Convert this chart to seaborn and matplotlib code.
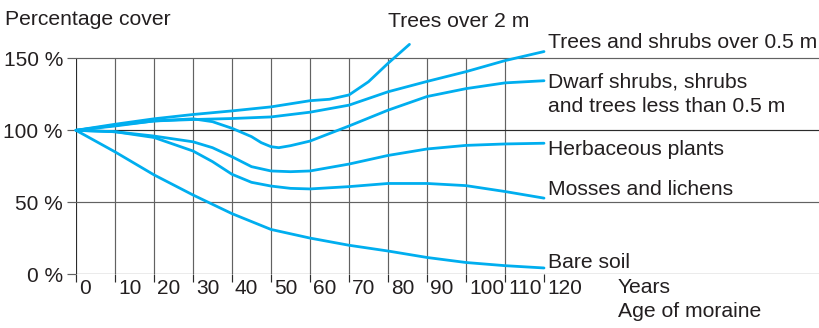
import matplotlib
matplotlib.use("Agg")
import matplotlib.pyplot as plt
import seaborn as sns
from matplotlib.transforms import ScaledTranslation

# Werte (Alter der Moräne in Jahren -> Bedeckung in %)
yrs_trees2m = [0, 10, 20, 30, 40, 50, 60, 65, 70, 75, 80, 85.5]
trees2m = [100, 104.2, 108, 111, 113.5, 116.3, 120.6, 121.6, 124.6, 133.8, 146.6, 159.8]

yrs_full = [0, 10, 20, 30, 40, 50, 60, 70, 80, 90, 100, 110, 120]
trees_shrubs = [100, 103.5, 106.5, 107.5, 108.2, 109.3, 112.6, 117.5, 126.8, 134, 140.8, 148.5, 154.8]
bare_soil = [100, 85, 69, 55, 42, 31, 25, 20, 16, 11.5, 8, 5.8, 4.2]

yrs_dwarf = [0, 10, 20, 30, 35, 40, 45, 47.5, 50, 52, 55, 60, 70, 80, 90, 100, 110, 120]
dwarf = [100, 103, 106.5, 108, 106, 101.4, 95.6, 91.4, 88.6, 87.9, 89.3, 92.5, 103, 114, 123.5, 129, 133, 134.5]

yrs_mid = [0, 10, 20, 30, 35, 40, 45, 50, 55, 60, 70, 80, 90, 100, 110, 120]
herbaceous = [100, 99, 96, 92, 87.9, 81.6, 74.7, 71.7, 71.2, 71.7, 76.5, 82.5, 87, 89.5, 90.5, 91]
mosses = [100, 99, 95, 85.6, 78.2, 69.4, 63.8, 61.2, 59.6, 59.2, 60.8, 63, 63, 61.5, 57.4, 52.8]

x_ticks = [0, 10, 20, 30, 40, 50, 60, 70, 80, 90, 100, 110, 120]
y_ticks = [0, 50, 100, 150]
y_labels = ["0 %", "50 %", "100 %", "150 %"]

labels = ["Trees over 2 m", "Trees and shrubs over 0.5 m", "Dwarf shrubs, shrubs",
          "and trees less than 0.5 m", "Herbaceous plants", "Mosses and lichens", "Bare soil"]

CYAN = "#00aeef"
DARK = "#2b2b2b"
GREY = "#626262"
TXT = "#231f20"

sns.set_style("white")
plt.rcParams["font.family"] = ["Liberation Sans", "DejaVu Sans"]

W, H = 820, 328
fig = plt.figure(figsize=(W / 100, H / 100), dpi=100)
ax = fig.add_axes([76 / W, 54 / H, 744 / W, 237.1 / H])

# Raster
for v in x_ticks[:-1]:
    ax.vlines(v, 0, 150, colors=DARK if v == 0 else GREY, lw=0.85, zorder=1)
for v in y_ticks:
    ax.axhline(v, color=DARK if v in (0, 100) else GREY, lw=0.85, zorder=1)

# Kurven
serien = [
    (yrs_trees2m, trees2m),
    (yrs_full, trees_shrubs),
    (yrs_dwarf, dwarf),
    (yrs_mid, herbaceous),
    (yrs_mid, mosses),
    (yrs_full, bare_soil),
]
for xs, ys in serien:
    sns.lineplot(x=xs, y=ys, ax=ax, color=CYAN, lw=2.0, clip_on=False,
                 solid_joinstyle="round", zorder=3)

ax.set_xlim(0, 744 / 3.9)
ax.set_ylim(0, 165)
sns.despine(ax=ax, left=True, bottom=True)

ax.set_xticks(x_ticks)
ax.set_xticklabels([str(v) for v in x_ticks])
ax.tick_params(axis="x", bottom=True, length=6, width=0.85, color=DARK, pad=-2.5,
               labelsize=15, labelcolor=TXT)
off = ScaledTranslation(3 / 100, 0, fig.dpi_scale_trans)
for lbl in ax.get_xticklabels():
    lbl.set_horizontalalignment("left")
    lbl.set_transform(lbl.get_transform() + off)

ax.set_yticks(y_ticks)
ax.set_yticklabels(y_labels)
ax.tick_params(axis="y", left=True, length=6.5, width=0.85, color=GREY, pad=2.9,
               labelsize=15, labelcolor=TXT)

def px(x, y, s):
    fig.text(x / W, 1 - y / H, s, va="baseline", ha="left", fontsize=15.2, color=TXT)

px(5, 25, "Percentage cover")
px(388, 27.3, labels[0])
px(548, 48, labels[1])
px(548, 88, labels[2])
px(548, 112, labels[3])
px(548, 155, labels[4])
px(548, 194.7, labels[5])
px(548, 268, labels[6])
px(618, 293, "Years")
px(618, 317, "Age of moraine")

fig.savefig("out.png", dpi=100)
